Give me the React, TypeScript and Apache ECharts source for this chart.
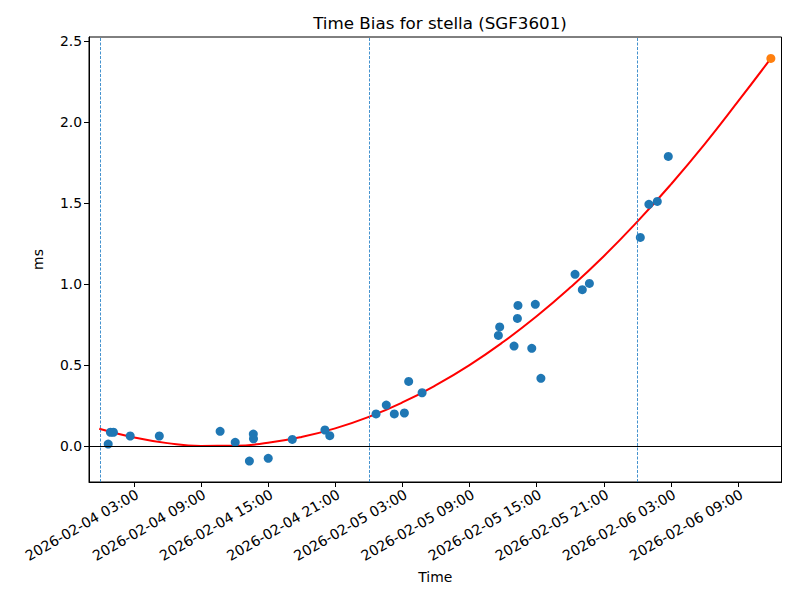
import { useEffect, useRef } from 'react';
import * as echarts from 'echarts';

// Observed time-bias points (local time strings, ms)
const obsTimes = [
  '2026-02-04 00:43', '2026-02-04 00:55', '2026-02-04 01:11', '2026-02-04 02:41',
  '2026-02-04 05:17', '2026-02-04 10:43', '2026-02-04 12:04', '2026-02-04 13:20',
  '2026-02-04 13:41', '2026-02-04 13:42', '2026-02-04 15:01', '2026-02-04 17:10',
  '2026-02-04 20:05', '2026-02-04 20:31', '2026-02-05 00:39', '2026-02-05 01:34',
  '2026-02-05 02:17', '2026-02-05 03:11', '2026-02-05 03:34', '2026-02-05 04:46',
  '2026-02-05 11:35', '2026-02-05 11:42', '2026-02-05 12:59', '2026-02-05 13:17',
  '2026-02-05 13:20', '2026-02-05 14:34', '2026-02-05 14:53', '2026-02-05 15:23',
  '2026-02-05 18:26', '2026-02-05 19:05', '2026-02-05 19:43', '2026-02-06 00:16',
  '2026-02-06 01:02', '2026-02-06 01:47', '2026-02-06 02:46',
];
const obsValues = [
  0.012, 0.085, 0.085, 0.062,
  0.062, 0.091, 0.023, -0.093,
  0.074, 0.045, -0.076, 0.041,
  0.099, 0.064, 0.198, 0.253,
  0.198, 0.204, 0.399, 0.329,
  0.683, 0.735, 0.617, 0.788,
  0.868, 0.603, 0.875, 0.418,
  1.060, 0.965, 1.004, 1.288,
  1.492, 1.510, 1.788,
];

// Predicted point
const predTimes = ['2026-02-06 11:56'];
const predValues = [2.393];

// Fitted curve
const fitTimes = [
  '2026-02-03 23:55', '2026-02-04 03:00', '2026-02-04 06:00', '2026-02-04 09:00',
  '2026-02-04 12:00', '2026-02-04 15:00', '2026-02-04 18:00', '2026-02-04 21:00',
  '2026-02-05 00:00', '2026-02-05 03:00', '2026-02-05 06:00', '2026-02-05 09:00',
  '2026-02-05 12:00', '2026-02-05 15:00', '2026-02-05 18:00', '2026-02-05 21:00',
  '2026-02-06 00:00', '2026-02-06 03:00', '2026-02-06 06:00', '2026-02-06 09:00',
  '2026-02-06 11:56',
];
const fitValues = [
  0.107, 0.053, 0.018, 0.001,
  0.002, 0.020, 0.056, 0.109,
  0.180, 0.269, 0.376, 0.500,
  0.642, 0.801, 0.978, 1.172,
  1.385, 1.615, 1.862, 2.127,
  2.393,
];

const midnightLines = ['2026-02-04 00:00', '2026-02-05 00:00', '2026-02-06 00:00'];
const xTickLabels = [
  '2026-02-04 03:00', '2026-02-04 09:00', '2026-02-04 15:00', '2026-02-04 21:00',
  '2026-02-05 03:00', '2026-02-05 09:00', '2026-02-05 15:00', '2026-02-05 21:00',
  '2026-02-06 03:00', '2026-02-06 09:00',
];
const yTicks = [0, 0.5, 1.0, 1.5, 2.0, 2.5];
const xRange = ['2026-02-03 23:00', '2026-02-06 12:53'];
const yRange = [-0.222, 2.525];

const toMs = (s: string) => new Date(s.replace(' ', 'T') + ':00').getTime();
const pad = (n: number) => (n < 10 ? '0' + n : '' + n);
const fmt = (ms: number) => {
  const d = new Date(ms);
  return `${d.getFullYear()}-${pad(d.getMonth() + 1)}-${pad(d.getDate())} ${pad(d.getHours())}:${pad(d.getMinutes())}`;
};

const FONT = 'DejaVu Sans';

export default function App() {
  const ref = useRef<HTMLDivElement>(null);
  useEffect(() => {
    document.body.style.margin = '0';
    if (!ref.current) return;
    const chart = echarts.init(ref.current, undefined, { renderer: 'svg' });
    const xTicksMs = xTickLabels.map(toMs);
    chart.setOption({
      animation: false,
      backgroundColor: '#fff',
      textStyle: { fontFamily: FONT },
      title: {
        text: 'Time Bias for stella (SGF3601)',
        left: 435,
        top: 9,
        textAlign: 'center',
        textStyle: { fontFamily: FONT, fontSize: 16.7, fontWeight: 'normal', color: '#000' },
      },
      grid: {
        left: 89,
        right: 18.5,
        top: 37,
        bottom: 118,
        show: true,
        borderColor: '#000',
        borderWidth: 1,
        backgroundColor: 'transparent',
      },
      xAxis: {
        type: 'value',
        min: toMs(xRange[0]),
        max: toMs(xRange[1]),
        name: 'Time',
        nameLocation: 'middle',
        nameGap: 88,
        nameTextStyle: { fontFamily: FONT, fontSize: 13.9, color: '#000' },
        axisLine: { show: true, onZero: false, lineStyle: { color: '#000', width: 1 } },
        axisTick: { show: true, length: 5, lineStyle: { color: '#000' }, customValues: xTicksMs },
        axisLabel: {
          customValues: xTicksMs,
          rotate: 30,
          margin: 5,
          verticalAlign: 'top',
          fontFamily: FONT,
          fontSize: 14.2,
          color: '#000',
          formatter: (v: number) => fmt(v),
        },
        splitLine: { show: false },
      },
      yAxis: {
        type: 'value',
        min: yRange[0],
        max: yRange[1],
        name: 'ms',
        nameLocation: 'middle',
        nameGap: 44,
        nameRotate: 90,
        nameTextStyle: { fontFamily: FONT, fontSize: 13.9, color: '#000' },
        axisLine: { show: true, onZero: false, lineStyle: { color: '#000', width: 1 } },
        axisTick: { show: true, length: 5, lineStyle: { color: '#000' }, customValues: yTicks },
        axisLabel: {
          customValues: yTicks,
          margin: 7,
          fontFamily: FONT,
          fontSize: 13.9,
          color: '#000',
          formatter: (v: number) => v.toFixed(1),
        },
        splitLine: { show: false },
      },
      series: [
        {
          type: 'line',
          name: 'fit',
          data: fitTimes.map((t, i) => [toMs(t), fitValues[i]]),
          showSymbol: false,
          smooth: true,
          lineStyle: { color: '#ff0000', width: 2 },
          z: 2,
          markLine: {
            silent: true,
            symbol: 'none',
            label: { show: false },
            data: [
              ...midnightLines.map((t) => ({
                xAxis: toMs(t),
                lineStyle: { color: '#2f86c8', width: 0.9, type: [3, 1.5], opacity: 1 },
              })),
              { yAxis: 0, lineStyle: { color: '#000', width: 1, type: 'solid' } },
            ],
          },
        },
        {
          type: 'scatter',
          name: 'obs',
          data: obsTimes.map((t, i) => [toMs(t), obsValues[i]]),
          symbolSize: 9,
          itemStyle: { color: '#1f77b4', opacity: 1 },
          z: 3,
        },
        {
          type: 'scatter',
          name: 'pred',
          data: predTimes.map((t, i) => [toMs(t), predValues[i]]),
          symbolSize: 9,
          itemStyle: { color: '#ff7f0e', opacity: 1 },
          z: 4,
        },
      ],
    });
    return () => chart.dispose();
  }, []);
  return <div ref={ref} style={{ width: 800, height: 600 }} />;
}
